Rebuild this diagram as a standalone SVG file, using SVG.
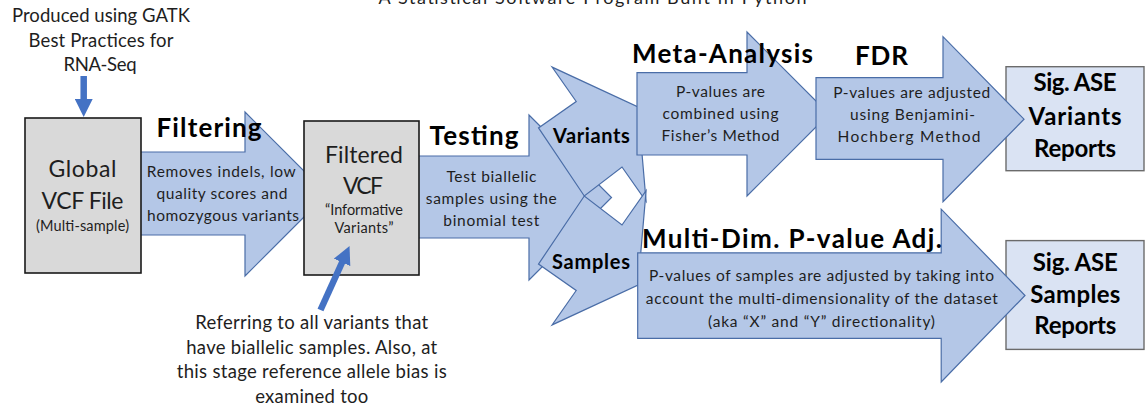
<svg xmlns="http://www.w3.org/2000/svg" width="1147" height="408" viewBox="0 0 1147 408">
  <style>
    .blk { fill: #B4C7E7; stroke: #4A6DA7; stroke-width: 1.2; stroke-linejoin: miter; }
    .gbox { fill: #D9D9D9; stroke: #1a1a1a; stroke-width: 1.6; }
    .sbox { fill: #DAE3F3; stroke: #6b6b6b; stroke-width: 1.4; }
    .t { font-family: Lato, "Liberation Sans", sans-serif; fill: #1e1e1e; text-anchor: middle; }
    .b { font-weight: bold; fill: #000; }
    .body { font-size: 15.5px; }
    .conn { stroke: #4472C4; stroke-width: 6.5; fill: none; }
  </style>
  <defs>
    <marker id="head" markerUnits="userSpaceOnUse" markerWidth="18" markerHeight="18" viewBox="0 0 18 18" refX="1" refY="9" orient="auto">
      <path d="M0,0 L18,9 L0,18 z" fill="#4472C4"/>
    </marker>
  </defs>

  <rect width="1147" height="408" fill="#ffffff"/>

  <!-- title (partly above the top edge) -->
  <text class="t" x="592.5" y="4" font-size="18" textLength="428">A Statistical Software Program Built in Python</text>

  <!-- input note -->
  <g id="note-input">
    <text class="t" x="101" y="22" font-size="18.5" textLength="178">Produced using GATK</text>
    <text class="t" x="101" y="46.5" font-size="18.5" textLength="145">Best Practices for</text>
    <text class="t" x="100" y="71" font-size="18.5" textLength="73">RNA-Seq</text>
  </g>

  <!-- step: filtering -->
  <g id="step-filtering">
    <polygon class="blk" points="135,152 245,152 245,112 327,194 245,276 245,235 135,235"/>
    <text class="t b" x="209" y="136.5" font-size="26" textLength="105">Filtering</text>
    <text class="t body" x="221.3" y="177" textLength="149">Removes indels, low</text>
    <text class="t body" x="222" y="199" textLength="131">quality scores and</text>
    <text class="t body" x="223" y="220.5" textLength="152">homozygous variants</text>
  </g>

  <!-- step: testing -->
  <g id="step-testing">
    <polygon class="blk" points="415,156 529,156 529,115 611.5,197.5 529,280 529,238 415,238"/>
    <text class="t b" x="474" y="145" font-size="26" textLength="89">Testing</text>
    <text class="t body" x="491.5" y="181.5" textLength="90">Test biallelic</text>
    <text class="t body" x="491.3" y="203.5" textLength="131">samples using the</text>
    <text class="t body" x="491.3" y="225.5" textLength="96">binomial test</text>
  </g>

  <!-- branch: variants -->
  <g id="branch-variants">
    <polygon class="blk" points="638,107 646.1,201.4 622,167 584.3,196 538.5,127.9 576.2,101.5 552.1,67.1"/>
    <text class="t b" x="591.4" y="142.5" font-size="20" textLength="77">Variants</text>
  </g>

  <!-- branch: samples -->
  <g id="branch-samples">
    <polygon class="blk" points="638,285 646.1,190.6 622,225 584.3,196 538.5,264.1 576.2,290.5 552.1,324.9"/>
    <text class="t b" x="591" y="268.5" font-size="20" textLength="78">Samples</text>
  </g>

  <!-- step: meta-analysis -->
  <g id="step-meta">
    <polygon class="blk" points="637,72.7 747,72.7 747,32 829,114 747,196 747,155 637,155"/>
    <text class="t b" x="722.5" y="63.3" font-size="26" textLength="181">Meta-Analysis</text>
    <text class="t body" x="720.5" y="96.7" textLength="89">P-values are</text>
    <text class="t body" x="720.5" y="118.5" textLength="116">combined using</text>
    <text class="t body" x="720.5" y="140.7" textLength="118">Fisher’s Method</text>
  </g>

  <!-- report boxes -->
  <g id="report-variants">
    <rect class="sbox" x="1006" y="66.7" width="138" height="104"/>
    <text class="t b" x="1075" y="91" font-size="24" textLength="83">Sig. ASE</text>
    <text class="t b" x="1075" y="124.5" font-size="24" textLength="93">Variants</text>
    <text class="t b" x="1075" y="156.5" font-size="24" textLength="82">Reports</text>
  </g>

  <g id="report-samples">
    <rect class="sbox" x="1006" y="240.6" width="138" height="108.8"/>
    <text class="t b" x="1075.3" y="270.5" font-size="24" textLength="85">Sig. ASE</text>
    <text class="t b" x="1075.3" y="303" font-size="24" textLength="90">Samples</text>
    <text class="t b" x="1075.3" y="334" font-size="24" textLength="82">Reports</text>
  </g>

  <!-- step: FDR -->
  <g id="step-fdr">
    <polygon class="blk" points="816,77.7 943,77.7 943,36.7 1024,119.2 943,201.7 943,159.3 816,159.3"/>
    <text class="t b" x="881.5" y="65" font-size="26" textLength="53">FDR</text>
    <text class="t body" x="911.7" y="98.3" textLength="157">P-values are adjusted</text>
    <text class="t body" x="912.5" y="120" textLength="125">using Benjamini-</text>
    <text class="t body" x="909" y="141.7" textLength="143">Hochberg Method</text>
  </g>

  <!-- step: multi-dimensional adjustment -->
  <g id="step-multidim">
    <polygon class="blk" points="637.7,252.8 941.2,252.8 941.2,209.2 1025,295.5 941.2,381.9 941.2,338.3 637.7,338.3"/>
    <text class="t b" x="792" y="247.6" font-size="26" textLength="300">Multi-Dim. P-value Adj.</text>
    <text class="t body" x="821.5" y="281.4" textLength="345">P-values of samples are adjusted by taking into</text>
    <text class="t body" x="821.8" y="304.4" textLength="352">account the multi-dimensionality of the dataset</text>
    <text class="t body" x="821.5" y="326.8" textLength="227">(aka “X” and “Y” directionality)</text>
  </g>

  <!-- data boxes -->
  <g id="global-vcf">
    <rect class="gbox" x="25" y="118" width="116" height="155"/>
    <text class="t" x="82.5" y="177.3" font-size="23" textLength="68">Global</text>
    <text class="t" x="82.5" y="209.3" font-size="23" textLength="82">VCF File</text>
    <text class="t" x="82.5" y="231" font-size="14.5" textLength="93">(Multi-sample)</text>
  </g>

  <g id="filtered-vcf">
    <rect class="gbox" x="304" y="121" width="115" height="154"/>
    <text class="t" x="364" y="163.3" font-size="23" textLength="78">Filtered</text>
    <text class="t" x="363" y="194" font-size="23" textLength="40">VCF</text>
    <text class="t" x="364" y="215" font-size="14.5" textLength="78">“Informative</text>
    <text class="t" x="364" y="233.3" font-size="14.5" textLength="59">Variants”</text>
  </g>

  <!-- pointer arrows -->
  <g id="connectors">
    <line class="conn" x1="83.7" y1="76" x2="83.7" y2="100" marker-end="url(#head)"/>
    <line class="conn" x1="320.5" y1="310" x2="342.5" y2="261.5" marker-end="url(#head)"/>
  </g>

  <!-- annotation note -->
  <g id="note-informative">
    <text class="t" x="311.7" y="329" font-size="18.5" textLength="233">Referring to all variants that</text>
    <text class="t" x="311.7" y="353.5" font-size="18.5" textLength="251">have biallelic samples. Also, at</text>
    <text class="t" x="311.7" y="378.3" font-size="18.5" textLength="270">this stage reference allele bias is</text>
    <text class="t" x="311.7" y="403.3" font-size="18.5" textLength="113">examined too</text>
  </g>
</svg>
